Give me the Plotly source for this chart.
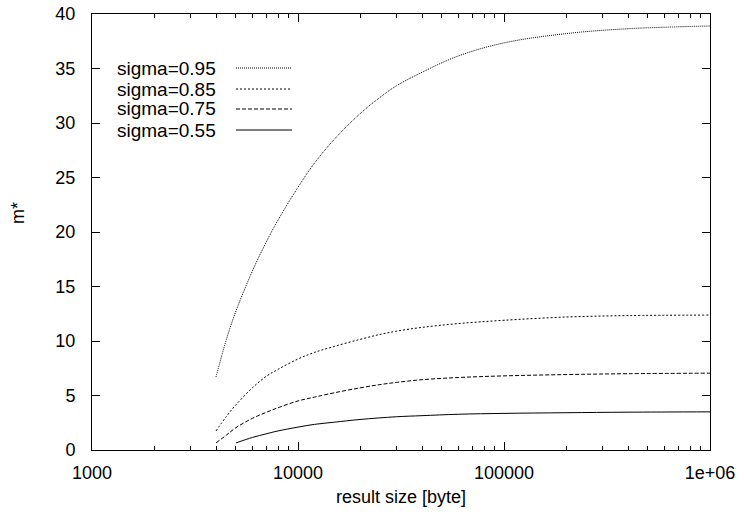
import plotly.graph_objects as go

# ---- data ----
x_common = [4000, 4500, 5000, 6000, 7000, 8000, 10000, 12000, 15000, 20000,
            25000, 30000, 40000, 60000, 100000, 200000, 400000, 1000000]
m_095 = [6.7, 10.2, 12.75, 16.4, 19.05, 21.1, 24.1, 26.3, 28.5, 30.85,
         32.35, 33.4, 34.65, 36.15, 37.35, 38.2, 38.65, 38.9]
m_085 = [1.75, 3.1, 4.15, 5.7, 6.75, 7.4, 8.35, 8.95, 9.5, 10.15,
         10.6, 10.9, 11.25, 11.6, 11.9, 12.2, 12.33, 12.38]
m_075 = [0.65, 1.38, 2.05, 2.9, 3.45, 3.88, 4.5, 4.85, 5.25, 5.7,
         6.0, 6.2, 6.45, 6.65, 6.8, 6.92, 7.0, 7.05]
x_055 = [5000, 6000, 7000, 8000, 10000, 12000, 15000, 20000,
         30000, 40000, 60000, 100000, 200000, 400000, 1000000]
m_055 = [0.65, 1.15, 1.48, 1.75, 2.1, 2.35, 2.55, 2.8,
         3.05, 3.15, 3.28, 3.36, 3.42, 3.47, 3.5]

labels = ["sigma=0.95", "sigma=0.85", "sigma=0.75", "sigma=0.55"]
xs = [x_common, x_common, x_common, x_055]
ys = [m_095, m_085, m_075, m_055]
dashes = ["1px,1px", "2px,2px", "4px,2px", "solid"]

x_tickvals = [1000, 10000, 100000, 1000000]
x_ticktext = ["1000", "10000", "100000", "1e+06"]
y_tickvals = [0, 5, 10, 15, 20, 25, 30, 35, 40]

FONT = "Liberation Sans, Arial, Helvetica, sans-serif"
L, R, T, B = 92, 34, 14, 66
PW, PH = 744 - L - R, 516 - T - B

def px_x(p):
    return (p - L) / PW

def px_y(p):
    return (516 - B - p) / PH

fig = go.Figure()
for x, y, lab, d in zip(xs, ys, labels, dashes):
    fig.add_trace(go.Scatter(x=x, y=y, mode="lines", name=lab,
                             line=dict(color="black", width=1, dash=d, shape="spline"),
                             showlegend=False))

# custom legend (text left, sample line right)
leg_rows = [68, 89, 109, 130]
for lab, d, row in zip(labels, dashes, leg_rows):
    fig.add_annotation(x=px_x(218), y=px_y(row), xref="paper", yref="paper", text=lab,
                       showarrow=False, xanchor="right", yanchor="middle",
                       font=dict(size=19, color="black", family=FONT))
    fig.add_shape(type="line", xref="paper", yref="paper", x0=px_x(236), x1=px_x(292),
                  y0=px_y(row), y1=px_y(row), line=dict(color="black", width=1, dash=d))

# axis titles as annotations
fig.add_annotation(x=px_x(18), y=px_y(213), xref="paper", yref="paper", text="m*",
                   showarrow=False, textangle=-90, xanchor="center", yanchor="middle",
                   font=dict(size=18, family=FONT, color="black"))
fig.add_annotation(x=px_x(401), y=px_y(497), xref="paper", yref="paper",
                   text="result size [byte]", showarrow=False,
                   xanchor="center", yanchor="middle",
                   font=dict(size=18, family=FONT, color="black"))

fig.update_layout(
    width=744, height=516,
    margin=dict(l=L, r=R, t=T, b=B, autoexpand=False),
    paper_bgcolor="white", plot_bgcolor="white",
    font=dict(family=FONT, size=18, color="black"),
    xaxis=dict(type="log", range=[3, 6], tickvals=x_tickvals, ticktext=x_ticktext,
               ticks="inside", ticklen=8, tickcolor="black", tickwidth=1,
               showline=True, linecolor="black", linewidth=1, mirror="allticks",
               showgrid=False, zeroline=False, ticklabelstandoff=6, automargin=False,
               minor=dict(ticks="inside", ticklen=4, tickcolor="black", tickwidth=1,
                          showgrid=False, dtick="D1")),
    yaxis=dict(range=[0, 40], tickvals=y_tickvals,
               ticks="inside", ticklen=8, tickcolor="black", tickwidth=1,
               showline=True, linecolor="black", linewidth=1, mirror="allticks",
               showgrid=False, zeroline=False, ticklabelstandoff=12, automargin=False),
)

fig.write_html("out.html")
